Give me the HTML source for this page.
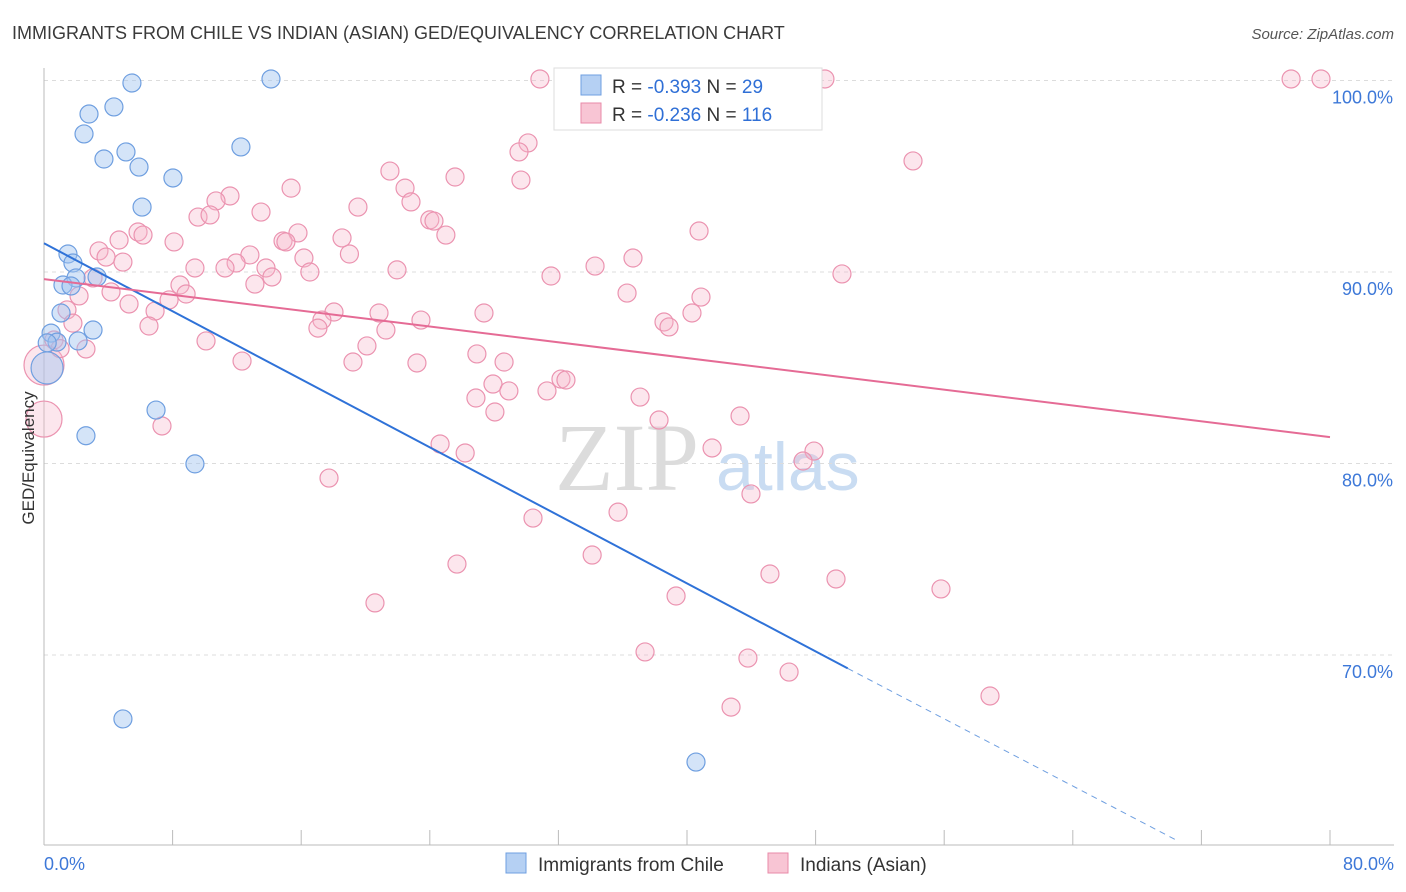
<!DOCTYPE html>
<html><head><meta charset="utf-8"><style>
body{margin:0;background:#fff;font-family:"Liberation Sans",sans-serif;}
#wrap{position:relative;width:1406px;height:892px;overflow:hidden;}
</style></head><body>
<div id="wrap">
<svg id="svg" width="1406" height="892" xmlns="http://www.w3.org/2000/svg">
<text x="12" y="39" font-size="18" fill="#3a3a3a">IMMIGRANTS FROM CHILE VS INDIAN (ASIAN) GED/EQUIVALENCY CORRELATION CHART</text>
<text x="1394" y="39" font-size="15" fill="#555" font-style="italic" text-anchor="end">Source: ZipAtlas.com</text>
<text x="555" y="490" font-size="96" fill="#dcdcdc" font-family="Liberation Serif,serif">ZIP</text>
<text x="716" y="490" font-size="68" fill="#c9dcf2">atlas</text>
<g id="grid"></g><g id="pts"></g><g id="lines"></g>
<text transform="translate(34,458) rotate(-90)" font-size="17" fill="#333" text-anchor="middle">GED/Equivalency</text>
<rect x="554" y="68" width="268" height="62" fill="#fff" stroke="#ddd"/>
<rect x="581" y="75" width="20" height="20" fill="#b5d0f3" stroke="#6f9fe0"/>
<rect x="581" y="103" width="20" height="20" fill="#f8c5d4" stroke="#e88aa8"/>
<text x="612" y="93" font-size="19" fill="#333">R = <tspan fill="#2f6fd6">-0.393</tspan>   N =  <tspan fill="#2f6fd6">29</tspan></text>
<text x="612" y="121" font-size="19" fill="#333">R = <tspan fill="#2f6fd6">-0.236</tspan>   N = <tspan fill="#2f6fd6">116</tspan></text>
<rect x="506" y="853" width="20" height="20" fill="#b5d0f3" stroke="#6f9fe0"/>
<text x="538" y="871" font-size="19" fill="#333">Immigrants from Chile</text>
<rect x="768" y="853" width="20" height="20" fill="#f8c5d4" stroke="#e88aa8"/>
<text x="800" y="871" font-size="19" fill="#333">Indians (Asian)</text>
</svg>
</div>
<script>
const blueX=[5.47,14.12,4.35,2.80,2.49,5.10,12.25,3.73,5.91,8.02,6.10,1.49,1.80,1.99,3.30,1.18,1.68,1.06,3.05,0.44,0.81,2.12,0.19,6.97,2.61,9.39,4.91,40.56,0.2];
const blueY=[99.87,100.08,98.62,98.25,97.21,96.27,96.53,95.90,95.48,94.91,93.39,90.94,90.47,89.69,89.74,89.32,89.27,87.86,86.97,86.81,86.34,86.40,84.99,82.79,81.45,79.98,66.66,64.41,86.3];
const pinkX=[30.85,48.58,77.58,79.44,30.11,29.55,54.06,21.52,25.57,29.67,15.37,22.46,11.57,10.7,22.83,19.53,13.5,9.58,10.33,24.0,24.26,5.85,6.16,15.8,25.0,40.75,4.67,8.09,14.87,15.05,18.54,12.81,3.42,3.86,4.91,16.17,19.0,11.95,36.64,34.28,11.26,9.39,13.81,21.96,14.18,16.54,31.54,49.64,3.05,8.46,13.12,8.84,2.18,4.17,36.27,40.87,7.78,5.29,1.43,6.91,18.04,20.84,27.37,40.31,17.29,23.45,1.80,38.57,17.04,21.27,38.88,6.53,0.62,10.08,20.09,2.61,26.93,12.32,19.22,23.2,28.62,0,32.16,32.47,27.93,28.92,31.29,26.87,37.08,28.05,43.3,38.26,0,7.34,24.64,26.2,41.56,47.9,47.22,17.73,43.98,30.42,35.71,34.1,25.69,45.16,49.27,55.8,39.32,20.59,37.39,43.79,46.35,42.74,58.85,1.0];
const pinkY=[100.08,100.08,100.08,100.08,96.74,96.27,95.80,95.27,94.96,94.80,94.38,94.38,93.97,93.71,93.66,93.39,93.13,92.87,92.98,92.72,92.66,92.09,91.93,92.04,91.93,92.14,91.67,91.57,91.62,91.57,91.78,90.89,91.1,90.78,90.52,90.73,90.94,90.47,90.73,90.31,90.21,90.21,90.21,90.11,89.74,90.0,89.79,89.9,89.69,89.32,89.37,88.85,88.75,88.96,88.9,88.69,88.54,88.33,88.02,87.96,87.91,87.86,87.86,87.86,87.49,87.49,87.33,87.39,87.07,86.97,87.13,87.18,86.45,86.4,86.14,85.98,85.72,85.35,85.3,85.25,85.3,85.14,84.41,84.36,84.15,83.79,83.79,83.42,83.47,82.69,82.48,82.27,82.32,81.96,81.02,80.55,80.81,80.65,80.13,79.24,78.41,77.15,77.46,75.22,74.75,74.23,73.97,73.45,73.08,72.72,70.16,69.84,69.11,67.28,67.86,86.0];
const blueR=[9,9,9,9,9,9,9,9,9,9,9,9,9,9,9,9,9,9,9,9,9,9,16,9,9,9,9,9,9];
const pinkBig={81:20,92:18};
const blueLine=[[0,91.5],[50,69.3]];
const blueDash=[[50,69.3],[70.4,60.35]];
const pinkLine=[[0,89.63],[80,81.38]];
const yTicks=[100,90,80,70];
const yTickLabels=["100.0%","90.0%","80.0%","70.0%"];
const xTicks=[0,8,16,24,32,40,48,56,64,72,80];
const xLabels=[[0,"0.0%"],[80,"80.0%"]];

const NS="http://www.w3.org/2000/svg";
const X=v=>44+v/80*1286;
const Y=v=>80.5+(100-v)*19.15;
function mk(tag,attrs,parent){const e=document.createElementNS(NS,tag);for(const k in attrs)e.setAttribute(k,attrs[k]);document.getElementById(parent).appendChild(e);return e;}
yTicks.forEach((t,i)=>{
  const g=mk('line',{x1:44,x2:1394,y1:Y(t),y2:Y(t),stroke:'#dcdcdc','stroke-dasharray':'4,4'},'grid');
  
  
  const l=mk('text',{x:1393,y:Y(t)+23,'font-size':18,fill:'#3d78d8','text-anchor':'end'},'grid');
  l.textContent=yTickLabels[i];
  
  
});
const ax=mk('line',{x1:44,x2:1394,y1:845,y2:845,stroke:'#bbb'},'grid');


const ay=mk('line',{x1:44,x2:44,y1:68,y2:845,stroke:'#bbb'},'grid');


xTicks.forEach(t=>{
  const k=mk('line',{x1:X(t),x2:X(t),y1:830,y2:845,stroke:'#bbb'},'grid');
  
  
});
xLabels.forEach(([v,s])=>{
  const l=mk('text',{x:v===0?44:1394,y:870,'font-size':18,fill:'#3d78d8','text-anchor':v===0?'start':'end'},'grid');
  l.textContent=s;
  
  
});
pinkX.forEach((v,i)=>{
  const c=mk('circle',{cx:X(v),cy:Y(pinkY[i]),r:pinkBig[i]||9,fill:'rgba(246,182,203,0.35)',stroke:'#eb93b0','stroke-width':1.2},'pts');
  
  
});
blueX.forEach((v,i)=>{
  const c=mk('circle',{cx:X(v),cy:Y(blueY[i]),r:blueR[i],fill:'rgba(160,196,240,0.45)',stroke:'#6f9fe0','stroke-width':1.2},'pts');
  
  
});
const bl=mk('line',{x1:X(blueLine[0][0]),y1:Y(blueLine[0][1]),x2:X(blueLine[1][0]),y2:Y(blueLine[1][1]),stroke:'#2f72d8','stroke-width':2},'lines');


const bd=mk('line',{x1:X(blueDash[0][0]),y1:Y(blueDash[0][1]),x2:X(blueDash[1][0]),y2:Y(blueDash[1][1]),stroke:'#6f9fe0','stroke-width':1,'stroke-dasharray':'6,5'},'lines');


const pl=mk('line',{x1:X(pinkLine[0][0]),y1:Y(pinkLine[0][1]),x2:X(pinkLine[1][0]),y2:Y(pinkLine[1][1]),stroke:'#e56b95','stroke-width':2},'lines');


</script>
</body></html>
